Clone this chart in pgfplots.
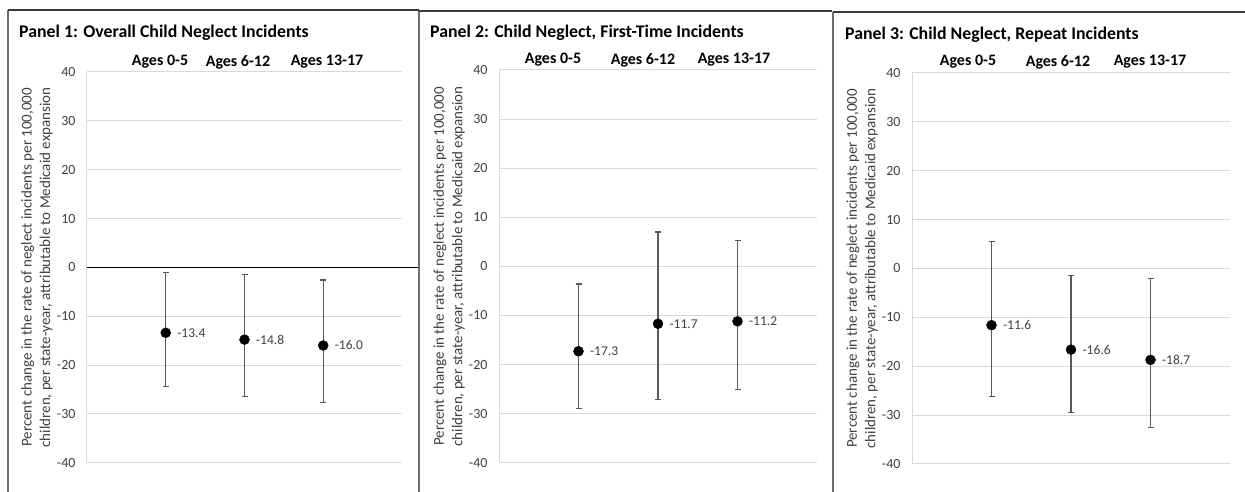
\documentclass[border=0pt]{standalone}
\usepackage{pgfplots}
\pgfplotsset{compat=1.18}
\usepackage{pgfplotstable}
\usepackage{fontspec}
\setmainfont{Carlito}
\definecolor{gridc}{HTML}{D9D9D9}
\definecolor{txt}{HTML}{404040}
\definecolor{errc}{HTML}{595959}
\definecolor{bordL}{HTML}{6E6E6E}
\definecolor{bordT}{HTML}{3A3A3A}

\pgfplotstableread{
x y lo hi lab
1 -13.4 -24.4 -1.1 -13.4
2 -14.8 -26.4 -1.5 -14.8
3 -16.0 -27.6 -2.6 -16.0
}\panelA
\pgfplotstableread{
x y lo hi lab
1 -17.3 -28.9 -3.6 -17.3
2 -11.7 -27.2 7.0 -11.7
3 -11.2 -25.1 5.2 -11.2
}\panelB
\pgfplotstableread{
x y lo hi lab
1 -11.6 -26.1 5.5 -11.6
2 -16.6 -29.4 -1.5 -16.6
3 -18.7 -32.6 -2.0 -18.7
}\panelC

\pgfplotsset{
  panel/.style={
    scale only axis, anchor=north west,
    xmin=0, xmax=4, ymin=-40, ymax=40,
    ytick={-40,-30,...,40},
    axis x line=none,
    axis y line*=left,
    y axis line style={draw=gridc, line width=1pt, -},
    ymajorgrids, grid style={draw=gridc, line width=1pt},
    major tick length=0pt,
    /pgf/number format/assume math mode=true,
    yticklabel style={font=\fontsize{14}{16}\selectfont, text=txt, xshift=-8pt},
    clip=false,
  },
  pts/.style={
    only marks, mark=*, mark size=5pt, mark options={fill=black, draw=black},
    nodes near coords, point meta=explicit symbolic,
    every node near coord/.style={anchor=west, xshift=8pt, font=\fontsize{13.5}{15}\selectfont, text=txt},
    error bars/.cd, y dir=both, y explicit,
    error bar style={errc, line width=1.4pt},
    error mark options={errc, line width=1.1pt, rotate=90, mark size=3pt},
  },
}

\newcommand{\ylab}{\node[xshift=-50pt, rotate=90, anchor=center, align=center, text=txt,
   font=\fontsize{15}{18.5}\selectfont] at (rel axis cs:0,0.5)
   {Percent change in the rate of neglect incidents per 100,000\\children, per state-year, attributable to Medicaid expansion};}

\begin{document}
\begin{tikzpicture}
\path[use as bounding box] (0,0) rectangle (1245pt,492pt);

% panel borders
\draw[bordL, line width=1.8pt] (8pt,0pt) -- (8pt,482pt);
\draw[bordT, line width=1.3pt] (8pt,482pt) -- (419pt,482pt);
\draw[bordL, line width=1.8pt] (419pt,0pt) -- (419pt,481pt);
\draw[bordT, line width=1.3pt] (419pt,481pt) -- (832pt,481pt);
\draw[bordL, line width=1.8pt] (833pt,0pt) -- (833pt,480pt);
\draw[bordT, line width=1.3pt] (833pt,480pt) -- (1245pt,480pt);

% titles
\node[anchor=west, inner sep=0pt, font=\fontsize{17.8}{20}\selectfont\bfseries] at (19pt,459pt) {Panel 1: Overall Child Neglect Incidents};
\node[anchor=west, inner sep=0pt, font=\fontsize{17.8}{20}\selectfont\bfseries] at (430pt,459pt) {Panel 2: Child Neglect, First-Time Incidents};
\node[anchor=west, inner sep=0pt, font=\fontsize{17.8}{20}\selectfont\bfseries] at (845pt,457pt) {Panel 3: Child Neglect, Repeat Incidents};

% age labels
\foreach \xx/\yy/\tt in {160/430/Ages 0-5, 238/430/Ages 6-12, 327/430/Ages 13-17,
                          553/432/Ages 0-5, 643/432/Ages 6-12, 734/432/Ages 13-17,
                          968/430/Ages 0-5, 1058/430/Ages 6-12, 1150/430/Ages 13-17}
  \node[inner sep=0pt, font=\fontsize{16}{18}\selectfont\bfseries] at (\xx pt,\yy pt) {\tt};

% Panel 1
\begin{axis}[panel, at={(87pt,420pt)}, width=315pt, height=390.7pt]
\draw[black, line width=1.3pt] (axis cs:0,0) -- (axis cs:4.2,0);
\ylab
\addplot+[pts] table[x=x, y=y, meta=lab,
   y error plus expr=\thisrow{hi}-\thisrow{y},
   y error minus expr=\thisrow{y}-\thisrow{lo}] {\panelA};
\end{axis}

% Panel 2
\begin{axis}[panel, at={(499pt,422pt)}, width=318pt, height=392.7pt]
\ylab
\addplot+[pts] table[x=x, y=y, meta=lab,
   y error plus expr=\thisrow{hi}-\thisrow{y},
   y error minus expr=\thisrow{y}-\thisrow{lo}] {\panelB};
\end{axis}

% Panel 3
\begin{axis}[panel, at={(912pt,419pt)}, width=318pt, height=391pt]
\ylab
\addplot+[pts] table[x=x, y=y, meta=lab,
   y error plus expr=\thisrow{hi}-\thisrow{y},
   y error minus expr=\thisrow{y}-\thisrow{lo}] {\panelC};
\end{axis}
\end{tikzpicture}
\end{document}
